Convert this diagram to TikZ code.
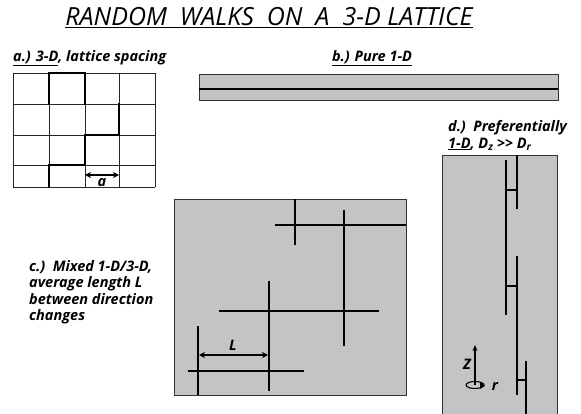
\documentclass[tikz,border=0pt]{standalone}
\usepackage{fontspec}
\setmainfont{Open Sans}
\usetikzlibrary{arrows.meta}
\tikzset{
    >=Latex,
    x=1pt, y=-1pt,
    title_text/.style={
        font=\fontsize{25}{30}\selectfont\itshape,
        inner sep=0pt
    },
    panel_label/.style={
        font=\fontsize{14.5}{17}\selectfont\bfseries\itshape,
        inner sep=0pt
    },
    side_note/.style={
        font=\fontsize{14.5}{16.5}\selectfont\bfseries\itshape,
        align=left,
        inner sep=0pt
    },
    lattice_line/.style={
        draw=black!85,
        line width=0.9pt
    },
    lattice_walk/.style={
        draw=black,
        line width=2.4pt,
        line cap=rect
    },
    panel_box/.style={
        draw=black!80,
        fill=black!23,
        line width=0.9pt
    },
    walk_path/.style={
        draw=black,
        line width=2.8pt
    },
    span_arrow/.style={
        {Stealth[length=6pt,width=6pt]}-{Stealth[length=6pt,width=6pt]},
        line width=1.1pt
    },
    axis_arrow/.style={
        -{Stealth[length=6pt,width=5pt]},
        line width=1.1pt
    }
}

\begin{document}
\begin{tikzpicture}

\useasboundingbox (0,0) rectangle (581,414);

% --- Title ---
\node[title_text] (Title) at (269,18)
  {\underline{RANDOM\ \ WALKS\ \ ON\ \ A\ \ 3-D LATTICE}};

% --- a.) 3-D lattice ---
\node[panel_label, anchor=west] (LabelA) at (13,58) {\underline{a.) 3-D}, lattice spacing};
\foreach \x in {13,49,85,119,155}
  \draw[lattice_line] (\x,73) -- (\x,187);
\foreach \y in {73,104,135,165,187}
  \draw[lattice_line] (13,\y) -- (155,\y);
\draw[lattice_walk] (49,104) -- (49,73) -- (85,73) -- (85,104);
\draw[lattice_walk] (49,187) -- (49,165) -- (85,165) -- (85,135) -- (119,135) -- (119,104);
\coordinate (SpacingL) at (85,175);
\coordinate (SpacingR) at (119,175);
\draw[span_arrow] (SpacingL) -- (SpacingR);
\node[panel_label] (SpacingA) at (102,183) {a};

% --- b.) Pure 1-D ---
\node[panel_label] (LabelB) at (372,58) {\underline{b.) Pure 1-D}};
\draw[panel_box] (199,74) rectangle (558,100);
\coordinate (TubeL) at (199,89);
\coordinate (TubeR) at (558,89);
\draw[walk_path] (TubeL) -- (TubeR);

% --- c.) Mixed 1-D/3-D ---
\node[side_note, anchor=north west] (LabelC) at (29,260)
  {c.)\ \ Mixed 1-D/3-D,\\average length L\\between direction\\changes};
\draw[panel_box] (174,199) rectangle (406,395);
\draw[walk_path] (295,199) -- (295,245);
\draw[walk_path] (275,225) -- (406,225);
\draw[walk_path] (344,210) -- (344,346);
\draw[walk_path] (219,311) -- (379,311);
\draw[walk_path] (269,281) -- (269,391);
\draw[walk_path] (188,371) -- (304,371);
\draw[walk_path] (198,326) -- (198,395);
\coordinate (StepL) at (199,355);
\coordinate (StepR) at (268,355);
\draw[span_arrow] (StepL) -- (StepR);
\node[panel_label] (StepLabel) at (233,345) {L};

% --- d.) Preferentially 1-D ---
\node[panel_label, anchor=west] (LabelD1) at (448,128) {d.)\ \ Preferentially};
\node[panel_label, anchor=west] (LabelD2) at (448,144)
  {\underline{1-D}, D\textsubscript{z} >{}> D\textsubscript{r}};
\draw[panel_box] (442,155) rectangle (557,420);
\draw[walk_path, line width=2.4pt] (517,155) -- (517,209);
\draw[walk_path, line width=2.4pt] (506,160) -- (506,315);
\draw[walk_path, line width=2.4pt] (506,190) -- (517,190);
\draw[walk_path, line width=2.4pt] (517,256) -- (517,395);
\draw[walk_path, line width=2.4pt] (506,286) -- (517,286);
\draw[walk_path, line width=2.4pt] (526,361) -- (526,420);
\draw[walk_path, line width=2.4pt] (517,380) -- (526,380);

% --- axes ---
\coordinate (AxisBase) at (475,385);
\coordinate (AxisTop) at (475,345);
\draw[axis_arrow] (AxisBase) -- (AxisTop);
\draw[line width=1.1pt] (AxisBase) ellipse [x radius=9, y radius=3.5];
\fill (480,382) -- (485,385.5) -- (480,389) -- cycle;
\node[panel_label] (AxisZ) at (467,364) {Z};
\node[panel_label] (AxisR) at (495,386) {r};

\end{tikzpicture}
\end{document}
